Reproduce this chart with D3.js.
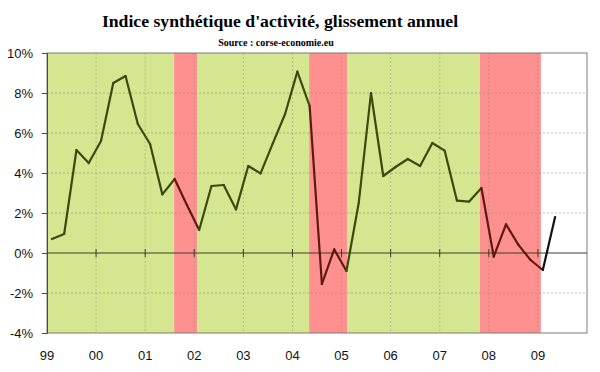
<!DOCTYPE html>
<html>
<head>
<meta charset="utf-8">
<script src="https://cdn.jsdelivr.net/npm/d3@7/dist/d3.min.js"></script>
<style>
  body { margin: 0; background: #fff; }
  svg { display: block; }
</style>
</head>
<body>
<div id="chart"></div>
<script>
// quarterly year-over-year change, % (Q1 1999 .. Q2 2009)
const values = [0.7, 0.95, 5.15, 4.5, 5.6, 8.5, 8.85, 6.45, 5.45, 2.93,
  3.7, 2.4, 1.15, 3.35, 3.4, 2.18, 4.35, 3.98, 5.48, 6.95,
  9.07, 7.35, -1.55, 0.18, -0.9, 2.5, 8.0, 3.85, 4.3, 4.7,
  4.35, 5.5, 5.12, 2.62, 2.57, 3.25, -0.18, 1.43, 0.42, -0.35,
  -0.85, 1.8];
const firstYear = 1999;

// background periods (decimal years)
const bandStart = [1999, 2001.59, 2002.06, 2004.34, 2005.12, 2007.82];
const bandEnd = [2001.59, 2002.06, 2004.34, 2005.12, 2007.82, 2009.06];
const bandType = ["up", "down", "up", "down", "up", "down"];

const yearTicks = [1999, 2000, 2001, 2002, 2003, 2004, 2005, 2006, 2007, 2008, 2009];
const yearLabels = ["99", "00", "01", "02", "03", "04", "05", "06", "07", "08", "09"];
const pctTicks = [-4, -2, 0, 2, 4, 6, 8, 10];

const width = 600, height = 372;
const margin = { top: 53, right: 13, bottom: 39, left: 47 };
const w = width - margin.left - margin.right;
const h = height - margin.top - margin.bottom;

const bandFill = { up: "#d5e690", down: "#ff9090" };
const lineColor = { up: "#3a4a0e", down: "#5e1a12", none: "#111111" };

const svg = d3.select("#chart").append("svg")
  .attr("width", width)
  .attr("height", height);

// titles
svg.append("text")
  .attr("x", 280).attr("y", 27)
  .attr("text-anchor", "middle")
  .style("font-family", "'Liberation Serif', 'Times New Roman', serif")
  .style("font-weight", "bold")
  .style("font-size", "17.7px")
  .text("Indice synthétique d'activité, glissement annuel");

svg.append("text")
  .attr("x", 276).attr("y", 46)
  .attr("text-anchor", "middle")
  .style("font-family", "'Liberation Serif', 'Times New Roman', serif")
  .style("font-weight", "bold")
  .style("font-size", "10px")
  .text("Source : corse-economie.eu");

const g = svg.append("g")
  .attr("transform", `translate(${margin.left},${margin.top})`);

const x = d3.scaleLinear().domain([1999, 2010]).range([0, w]);
const y = d3.scaleLinear().domain([-4, 10]).range([h, 0]);

// background bands
g.selectAll(".band")
  .data(bandStart.map((s, i) => ({ s, e: bandEnd[i], t: bandType[i] })))
  .enter().append("rect")
  .attr("x", d => x(d.s))
  .attr("y", 0)
  .attr("width", d => x(d.e) - x(d.s))
  .attr("height", h)
  .style("fill", d => bandFill[d.t]);

// gridlines
g.selectAll(".hgrid")
  .data(pctTicks.filter(v => v !== 0 && v !== -4 && v !== 10))
  .enter().append("line")
  .attr("x1", 0).attr("x2", w)
  .attr("y1", d => y(d)).attr("y2", d => y(d))
  .style("stroke", "#8a8a70")
  .style("stroke-opacity", 0.55)
  .style("stroke-dasharray", "2,2");

g.selectAll(".vgrid")
  .data(yearTicks.slice(1))
  .enter().append("line")
  .attr("x1", d => x(d)).attr("x2", d => x(d))
  .attr("y1", 0).attr("y2", h)
  .style("stroke", "#8a8a70")
  .style("stroke-opacity", 0.45)
  .style("stroke-dasharray", "2,2");

// frame
g.append("rect")
  .attr("x", 0).attr("y", 0)
  .attr("width", w).attr("height", h)
  .style("fill", "none")
  .style("stroke", "#7a7a7a");

// y axis
const yAxis = g.append("g")
  .call(d3.axisLeft(y).tickValues(pctTicks).tickSize(5).tickPadding(9)
    .tickFormat(d => d + "%"));
yAxis.select(".domain").style("stroke", "#4a5030");
yAxis.selectAll(".tick line").style("stroke", "#4a5030");
yAxis.selectAll("text")
  .style("font-family", "'Liberation Sans', Arial, sans-serif")
  .style("font-size", "13px")
  .style("fill", "#111");

// zero line with year ticks
g.append("line")
  .attr("x1", 0).attr("x2", w)
  .attr("y1", y(0)).attr("y2", y(0))
  .style("stroke", "#3c3c2a");

g.selectAll(".xtick")
  .data(yearTicks.slice(1))
  .enter().append("line")
  .attr("x1", d => x(d)).attr("x2", d => x(d))
  .attr("y1", y(0) - 4).attr("y2", y(0) + 4)
  .style("stroke", "#3c3c2a");

g.selectAll(".xlabel")
  .data(yearTicks)
  .enter().append("text")
  .attr("x", d => x(d))
  .attr("y", h + 27)
  .attr("text-anchor", "middle")
  .style("font-family", "'Liberation Sans', Arial, sans-serif")
  .style("font-size", "13px")
  .style("fill", "#111")
  .text((d, i) => yearLabels[i]);

// data line, each segment coloured by the period it sits in
const pts = values.map((v, i) => ({ t: firstYear + 0.1 + i * 0.25, v }));

function periodOf(t) {
  for (let i = 0; i < bandStart.length; i++) {
    if (t >= bandStart[i] && t < bandEnd[i]) return bandType[i];
  }
  return "none";
}

g.selectAll(".seg")
  .data(pts.slice(1).map((p, i) => [pts[i], p]))
  .enter().append("line")
  .attr("x1", d => x(d[0].t)).attr("y1", d => y(d[0].v))
  .attr("x2", d => x(d[1].t)).attr("y2", d => y(d[1].v))
  .style("stroke", d => lineColor[periodOf((d[0].t + d[1].t) / 2)])
  .style("stroke-width", 2.2)
  .style("stroke-linecap", "round");
</script>
</body>
</html>
